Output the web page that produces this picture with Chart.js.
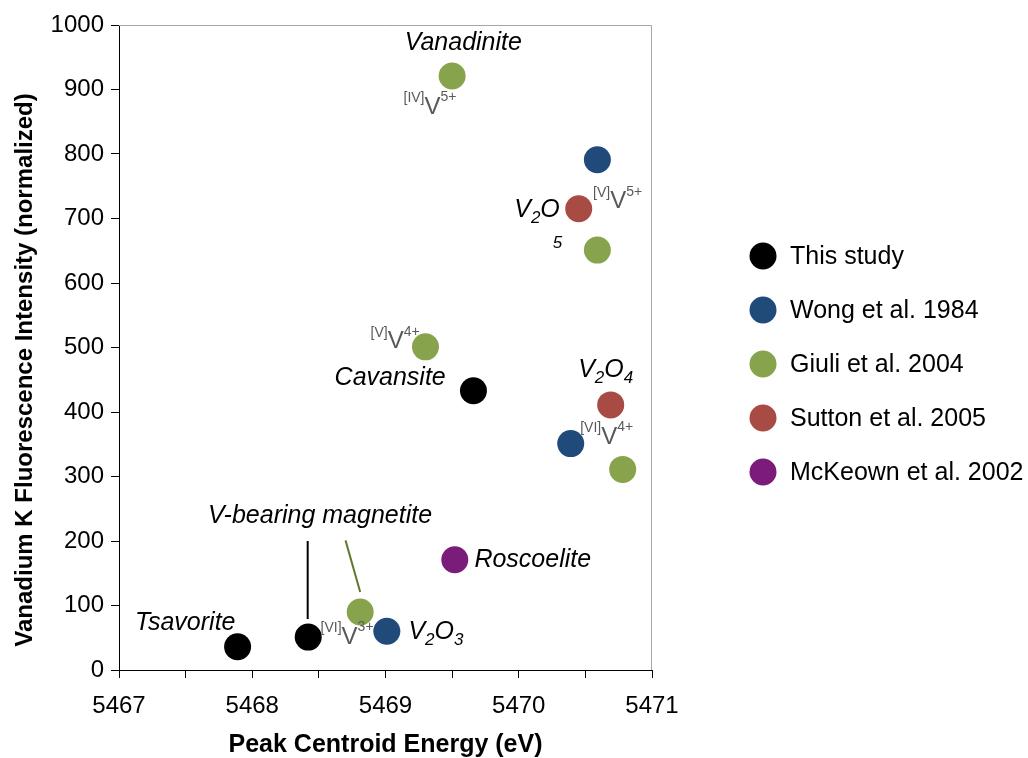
<!DOCTYPE html>
<html>
<head>
<meta charset="utf-8">
<script src="https://cdn.jsdelivr.net/npm/chart.js@4.4.1/dist/chart.umd.min.js"></script>
<style>
  html, body { margin: 0; padding: 0; background: #ffffff; }
  #wrap { width: 1028px; height: 758px; }
</style>
</head>
<body>
<div id="wrap"><canvas id="c" width="1028" height="758"></canvas></div>
<script>
// ---- data ----
const seriesNames = ["This study", "Wong et al. 1984", "Giuli et al. 2004", "Sutton et al. 2005", "McKeown et al. 2002"];
const thisStudyX = [5467.89, 5468.42, 5469.66];
const thisStudyY = [36, 51, 433];
const wongX = [5470.59, 5470.39, 5469.01];
const wongY = [791, 351, 60];
const giuliX = [5469.50, 5470.59, 5469.30, 5470.78, 5468.81];
const giuliY = [921, 651, 501, 311, 90];
const suttonX = [5470.45, 5470.69];
const suttonY = [715, 411];
const mckeownX = [5469.52];
const mckeownY = [171];
const xTickValues = [5467, 5468, 5469, 5470, 5471];
const yTickValues = [0, 100, 200, 300, 400, 500, 600, 700, 800, 900, 1000];
const xTitle = "Peak Centroid Energy (eV)";
const yTitle = "Vanadium K Fluorescence Intensity (normalized)";

const colors = ["#000000", "#1f4a7a", "#87a34b", "#a84b44", "#7b1c7b"];

function pts(xs, ys) { return xs.map((x, i) => ({ x: x, y: ys[i] })); }
const allData = [pts(thisStudyX, thisStudyY), pts(wongX, wongY), pts(giuliX, giuliY), pts(suttonX, suttonY), pts(mckeownX, mckeownY)];

// ---- annotation text (anchored in data coordinates) ----
const FAM = "'Liberation Sans', Arial, sans-serif";
const ITAL = "italic 25px " + FAM;
const labels = [
  { type: "plain", text: "Vanadinite", x: 5469.584, y: 972, align: "center" },
  { type: "site", pre: "[IV]", mid: "V", post: "5+", x: 5469.135, y: 876 },
  { type: "site", pre: "[V]", mid: "V", post: "5+", x: 5470.558, y: 729 },
  { type: "formula", parts: [["V", 0], ["2", 1], ["O", 0]], x: 5469.966, y: 713 },
  { type: "plain", text: "5", x: 5470.255, y: 662, align: "left", small: true },
  { type: "site", pre: "[V]", mid: "V", post: "4+", x: 5468.888, y: 512 },
  { type: "plain", text: "Cavansite", x: 5468.618, y: 453, align: "left" },
  { type: "formula", parts: [["V", 0], ["2", 1], ["O", 0], ["4", 1]], x: 5470.446, y: 465 },
  { type: "site", pre: "[VI]", mid: "V", post: "4+", x: 5470.461, y: 364 },
  { type: "plain", text: "V-bearing magnetite", x: 5467.667, y: 239, align: "left" },
  { type: "plain", text: "Tsavorite", x: 5467.12, y: 73, align: "left" },
  { type: "site", pre: "[VI]", mid: "V", post: "3+", x: 5468.513, y: 54 },
  { type: "formula", parts: [["V", 0], ["2", 1], ["O", 0], ["3", 1]], x: 5469.172, y: 59 },
  { type: "plain", text: "Roscoelite", x: 5469.667, y: 170.5, align: "left" }
];
const leaders = [
  { x1: 5468.416, y1: 200, x2: 5468.416, y2: 79, color: "#000000" },
  { x1: 5468.70, y1: 201, x2: 5468.81, y2: 121, color: "#5f7a2c" }
];

const annotPlugin = {
  id: "annot",
  beforeDatasetsDraw(chart) {
    const ctx = chart.ctx, a = chart.chartArea;
    ctx.save();
    ctx.strokeStyle = "#a6a6a6";
    ctx.lineWidth = 1;
    ctx.beginPath();
    ctx.moveTo(a.left, a.top + 0.5);
    ctx.lineTo(a.right - 0.5, a.top + 0.5);
    ctx.lineTo(a.right - 0.5, a.bottom);
    ctx.stroke();
    const xs = chart.scales.x, ys = chart.scales.y;
    leaders.forEach(l => {
      ctx.strokeStyle = l.color;
      ctx.lineWidth = 2;
      ctx.beginPath();
      ctx.moveTo(xs.getPixelForValue(l.x1), ys.getPixelForValue(l.y1));
      ctx.lineTo(xs.getPixelForValue(l.x2), ys.getPixelForValue(l.y2));
      ctx.stroke();
    });
    // axis titles
    ctx.fillStyle = "#000";
    ctx.textAlign = "center";
    ctx.textBaseline = "middle";
    ctx.font = "bold 25px " + FAM;
    ctx.fillText(xTitle, (a.left + a.right) / 2, 745);
    ctx.translate(25, 370);
    ctx.rotate(-Math.PI / 2);
    ctx.font = "bold 24px " + FAM;
    ctx.fillText(yTitle, 0, 0);
    ctx.restore();
  },
  afterDatasetsDraw(chart) {
    const ctx = chart.ctx;
    const xs = chart.scales.x, ys = chart.scales.y;
    ctx.save();
    ctx.textBaseline = "middle";
    labels.forEach(l => {
      let px = xs.getPixelForValue(l.x), py = ys.getPixelForValue(l.y);
      if (l.type === "plain") {
        ctx.font = l.small ? "italic 17px " + FAM : ITAL;
        ctx.fillStyle = "#000";
        ctx.textAlign = l.align;
        ctx.fillText(l.text, px, py);
      } else if (l.type === "formula") {
        ctx.textAlign = "left";
        ctx.fillStyle = "#000";
        l.parts.forEach(p => {
          if (p[1]) {
            ctx.font = "italic 17px " + FAM;
            ctx.fillText(p[0], px, py + 8);
          } else {
            ctx.font = ITAL;
            ctx.fillText(p[0], px, py);
          }
          px += ctx.measureText(p[0]).width;
        });
      } else if (l.type === "site") {
        ctx.textAlign = "left";
        ctx.fillStyle = "#595959";
        ctx.font = "14px " + FAM;
        ctx.fillText(l.pre, px, py - 7);
        px += ctx.measureText(l.pre).width;
        ctx.font = "24px " + FAM;
        ctx.fillText(l.mid, px, py + 2);
        px += ctx.measureText(l.mid).width;
        ctx.font = "14px " + FAM;
        ctx.fillText(l.post, px, py - 8);
      }
    });
    // legend
    const lx = 763, ly0 = 256, step = 54;
    chart.data.datasets.forEach((ds, i) => {
      const y = ly0 + i * step;
      ctx.fillStyle = ds.backgroundColor;
      ctx.beginPath();
      ctx.arc(lx, y, 13.5, 0, Math.PI * 2);
      ctx.fill();
      ctx.fillStyle = "#000";
      ctx.font = "25px " + FAM;
      ctx.textAlign = "left";
      ctx.fillText(ds.label, 790, y + 1);
    });
    ctx.restore();
  }
};

new Chart(document.getElementById("c"), {
  type: "scatter",
  data: {
    datasets: seriesNames.map((n, i) => ({
      label: n,
      data: allData[i],
      backgroundColor: colors[i],
      borderWidth: 0,
      pointRadius: 13.5,
      pointHoverRadius: 13.5
    }))
  },
  options: {
    responsive: false,
    animation: false,
    layout: { padding: { top: 25, right: 376, bottom: 0, left: 0 } },
    plugins: { legend: { display: false }, tooltip: { enabled: false } },
    scales: {
      x: {
        type: "linear",
        min: 5467, max: 5471,
        afterFit(s) { s.height = 88; },
        afterBuildTicks(s) {
          const t = [];
          for (let v = 5467; v <= 5471.001; v += 0.5) t.push({ value: Math.round(v * 2) / 2 });
          s.ticks = t;
        },
        ticks: {
          color: "#000",
          font: { family: FAM, size: 24 },
          padding: 14,
          maxRotation: 0,
          autoSkip: false,
          callback: (v) => xTickValues.includes(v) ? String(v) : ""
        },
        grid: { drawOnChartArea: false, drawTicks: true, tickLength: 8, color: "#000" },
        border: { color: "#000", width: 1 },
        title: { display: false }
      },
      y: {
        min: 0, max: 1000,
        afterFit(s) { s.width = 119; },
        afterBuildTicks(s) { s.ticks = yTickValues.map(v => ({ value: v })); },
        ticks: {
          color: "#000",
          font: { family: FAM, size: 24 },
          padding: 7,
          callback: (v) => String(v)
        },
        grid: { drawOnChartArea: false, drawTicks: true, tickLength: 8, color: "#000" },
        border: { color: "#000", width: 1 },
        title: { display: false }
      }
    }
  },
  plugins: [annotPlugin]
});
</script>
</body>
</html>
